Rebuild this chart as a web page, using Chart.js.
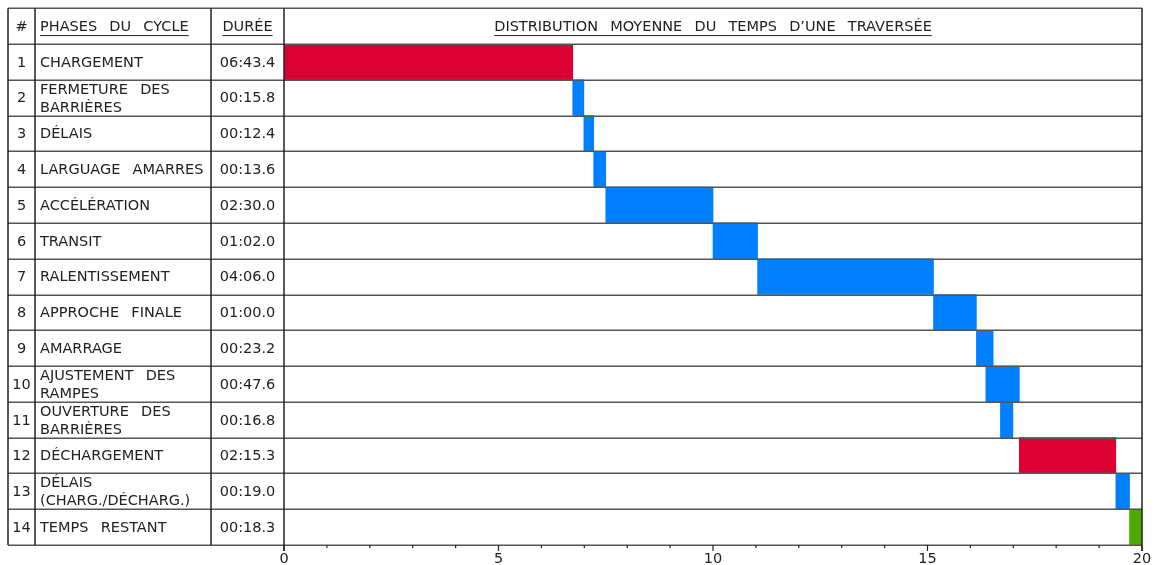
<!DOCTYPE html>
<html>
<head>
<meta charset="utf-8">
<script src="https://cdn.jsdelivr.net/npm/chart.js@4"></script>
<style>
  html, body { margin: 0; padding: 0; background: #fff; }
  #wrap { width: 1154px; height: 565px; position: relative; }
</style>
</head>
<body>
<div id="wrap"><canvas id="c" width="1154" height="565"></canvas></div>
<script>
// ---- data ----
const phaseNumbers = ['1','2','3','4','5','6','7','8','9','10','11','12','13','14'];
const phaseLabels = [
  ['CHARGEMENT'],
  ['FERMETURE  DES', 'BARRIÈRES'],
  ['DÉLAIS'],
  ['LARGUAGE  AMARRES'],
  ['ACCÉLÉRATION'],
  ['TRANSIT'],
  ['RALENTISSEMENT'],
  ['APPROCHE  FINALE'],
  ['AMARRAGE'],
  ['AJUSTEMENT  DES', 'RAMPES'],
  ['OUVERTURE  DES', 'BARRIÈRES'],
  ['DÉCHARGEMENT'],
  ['DÉLAIS', '(CHARG./DÉCHARG.)'],
  ['TEMPS  RESTANT']
];
const durations = ['06:43.4','00:15.8','00:12.4','00:13.6','02:30.0','01:02.0','04:06.0',
                   '01:00.0','00:23.2','00:47.6','00:16.8','02:15.3','00:19.0','00:18.3'];
// start / end of each bar in minutes
const barStart = [0.00, 6.73, 6.99, 7.22, 7.50, 10.00, 11.04, 15.14, 16.14, 16.36, 16.70, 17.14, 19.39, 19.71];
const barEnd   = [6.73, 6.99, 7.22, 7.50, 10.00, 11.04, 15.14, 16.14, 16.53, 17.14, 16.99, 19.39, 19.71, 20.00];
const phaseKind = ['quai','manoeuvre','manoeuvre','manoeuvre','manoeuvre','manoeuvre','manoeuvre',
                   'manoeuvre','manoeuvre','manoeuvre','manoeuvre','quai','manoeuvre','reste'];
const xTickValues = [0, 5, 10, 15, 20];
const xTickLabels = ['0', '5', '10', '15', '20'];
const headerNum = '#';
const headerPhase = 'PHASES  DU  CYCLE';
const headerDuree = 'DURÉE';
const headerTitle = 'DISTRIBUTION  MOYENNE  DU  TEMPS  D’UNE  TRAVERSÉE';

// ---- styles ----
const kindColors = { quai: '#dc0032', manoeuvre: '#0080ff', reste: '#4caa00' };
const FONT = '14.5px "DejaVu Sans"';
const TEXT = '#222';
const COL_X = [8, 35, 211]; // table column separators left of chart area

const tablePlugin = {
  id: 'tablePlugin',
  beforeDraw(chart) {
    const ctx = chart.ctx;
    ctx.save();
    ctx.fillStyle = '#fff';
    ctx.fillRect(0, 0, chart.width, chart.height);
    ctx.restore();
  },
  afterDatasetsDraw(chart) {
    const ctx = chart.ctx;
    const ca = chart.chartArea;
    const xs = chart.scales.x;
    const n = phaseLabels.length;
    const rowH = (ca.bottom - ca.top) / n;
    const headTop = ca.top - rowH;
    ctx.save();
    // horizontal lines
    ctx.strokeStyle = '#555';
    ctx.lineWidth = 1.5;
    for (let k = -1; k <= n; k++) {
      const y = Math.round(ca.top + k * rowH) + 0.25;
      ctx.beginPath();
      ctx.moveTo(COL_X[0], y);
      ctx.lineTo(ca.right, y);
      ctx.stroke();
    }
    // vertical lines
    ctx.strokeStyle = '#222';
    ctx.lineWidth = 1.5;
    const vx = [...COL_X, ca.left, ca.right];
    vx.forEach((x, i) => {
      ctx.beginPath();
      ctx.moveTo(x, headTop);
      ctx.lineTo(x, (i >= 3) ? ca.bottom + 6 : ca.bottom);
      ctx.stroke();
    });
    // ticks
    ctx.strokeStyle = '#222';
    ctx.lineWidth = 1.2;
    for (let v = xs.min; v <= xs.max; v++) {
      const x = xs.getPixelForValue(v);
      ctx.beginPath();
      ctx.moveTo(x, ca.bottom);
      ctx.lineTo(x, ca.bottom + (xTickValues.includes(v) ? 6 : 3));
      ctx.stroke();
    }
    // text
    ctx.font = FONT;
    ctx.wordSpacing = '1.5px';
    ctx.fillStyle = TEXT;
    ctx.textBaseline = 'middle';
    // tick labels
    ctx.textAlign = 'center';
    xTickValues.forEach((v, i) => {
      ctx.fillText(xTickLabels[i], xs.getPixelForValue(v), ca.bottom + 14);
    });
    const hy = headTop + rowH / 2 + 1;
    const underline = (x0, w, y) => {
      ctx.beginPath();
      ctx.lineWidth = 1;
      ctx.strokeStyle = TEXT;
      ctx.moveTo(x0, y + 0.5);
      ctx.lineTo(x0 + w, y + 0.5);
      ctx.stroke();
    };
    ctx.textAlign = 'center';
    ctx.fillText(headerNum, (COL_X[0] + COL_X[1]) / 2, hy);
    ctx.textAlign = 'left';
    ctx.fillText(headerPhase, COL_X[1] + 5, hy);
    underline(COL_X[1] + 5, ctx.measureText(headerPhase).width, hy + 8);
    ctx.textAlign = 'center';
    const dx = (COL_X[2] + ca.left) / 2;
    ctx.fillText(headerDuree, dx, hy);
    let w = ctx.measureText(headerDuree).width;
    underline(dx - w / 2, w, hy + 8);
    const tx = (ca.left + ca.right) / 2;
    ctx.fillText(headerTitle, tx, hy);
    w = ctx.measureText(headerTitle).width;
    underline(tx - w / 2, w, hy + 8);

    for (let i = 0; i < n; i++) {
      const top = ca.top + i * rowH;
      const cy = top + rowH / 2 + 1;
      ctx.textAlign = 'center';
      ctx.fillText(phaseNumbers[i], (COL_X[0] + COL_X[1]) / 2, cy);
      ctx.fillText(durations[i], dx, cy);
      ctx.textAlign = 'left';
      const lines = phaseLabels[i];
      if (lines.length === 1) {
        ctx.fillText(lines[0], COL_X[1] + 5, cy);
      } else {
        ctx.fillText(lines[0], COL_X[1] + 5, top + 10);
        ctx.fillText(lines[1], COL_X[1] + 5, top + 28);
      }
    }
    ctx.restore();
  }
};

new Chart(document.getElementById('c'), {
  type: 'bar',
  data: {
    labels: phaseNumbers,
    datasets: [{
      data: barStart.map((s, i) => [s, barEnd[i]]),
      backgroundColor: phaseKind.map(k => kindColors[k]),
      borderWidth: 0,
      barPercentage: 1.0,
      categoryPercentage: 1.0
    }]
  },
  options: {
    indexAxis: 'y',
    responsive: false,
    animation: false,
    layout: { padding: { left: 284, top: 44, right: 12, bottom: 20 } },
    plugins: { legend: { display: false }, tooltip: { enabled: false } },
    scales: {
      y: { display: false },
      x: { display: false, min: 0, max: 20 }
    }
  },
  plugins: [tablePlugin]
});
</script>
</body>
</html>
